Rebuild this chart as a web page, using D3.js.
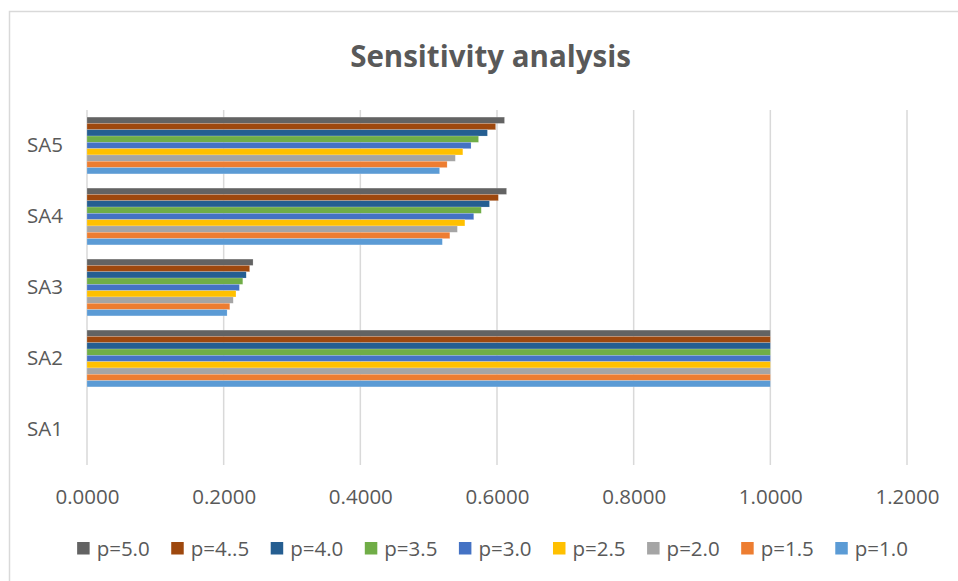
<!DOCTYPE html>
<html lang="en">
<head>
<meta charset="utf-8">
<title>Sensitivity analysis</title>
<script src="https://cdn.jsdelivr.net/npm/d3@7"></script>
<style>
  body { margin: 0; background: #fff; }
  text { font-family: "Open Sans", "Liberation Sans", sans-serif; fill: #595959; }
</style>
</head>
<body>
<div id="chart"></div>
<script>
// categories, top to bottom as drawn
var categories = ["SA5", "SA4", "SA3", "SA2", "SA1"];
// series in legend order (top bar of each group first)
var seriesNames = ["p=5.0", "p=4..5", "p=4.0", "p=3.5", "p=3.0", "p=2.5", "p=2.0", "p=1.5", "p=1.0"];
var seriesColors = ["#636363", "#9E480E", "#255E91", "#70AD47", "#4472C4", "#FFC000", "#A5A5A5", "#ED7D31", "#5B9BD5"];
// values per series, in the order SA5, SA4, SA3, SA2, SA1
var v50 = [0.611, 0.614, 0.243, 1.0, 0];
var v45 = [0.598, 0.602, 0.238, 1.0, 0];
var v40 = [0.586, 0.589, 0.233, 1.0, 0];
var v35 = [0.573, 0.577, 0.228, 1.0, 0];
var v30 = [0.562, 0.566, 0.223, 1.0, 0];
var v25 = [0.550, 0.553, 0.218, 1.0, 0];
var v20 = [0.539, 0.542, 0.214, 1.0, 0];
var v15 = [0.527, 0.531, 0.209, 1.0, 0];
var v10 = [0.516, 0.520, 0.205, 1.0, 0];
var seriesValues = [v50, v45, v40, v35, v30, v25, v20, v15, v10];
var xTicks = [0, 0.2, 0.4, 0.6, 0.8, 1.0, 1.2];

var W = 958, H = 581;
var plot = {left: 87, right: 907, top: 110, bottom: 465};

var svg = d3.select("#chart").append("svg")
    .attr("width", W).attr("height", H);

// outer chart border (runs off the right and bottom of the frame)
svg.append("rect")
    .attr("x", 9.5).attr("y", 11.5)
    .attr("width", 1000).attr("height", 1000)
    .attr("fill", "#fff").attr("stroke", "#d9d9d9").attr("stroke-width", 1.5);

var x = d3.scaleLinear().domain([0, 1.2]).range([plot.left, plot.right]);
var y = d3.scaleBand().domain(categories).range([plot.top, plot.bottom])
    .paddingInner(0.2).paddingOuter(0.1);
var ySub = d3.scaleBand().domain(seriesNames).range([0, y.bandwidth()]);

// title
svg.append("text")
    .attr("x", 490.5).attr("y", 67)
    .attr("text-anchor", "middle")
    .attr("font-size", "29.5px").attr("font-weight", "bold")
    .text("Sensitivity analysis");

// gridlines
svg.append("g").selectAll("line")
    .data(xTicks).enter().append("line")
    .attr("x1", function(d) { return x(d); })
    .attr("x2", function(d) { return x(d); })
    .attr("y1", plot.top).attr("y2", plot.bottom)
    .attr("stroke", "#d9d9d9").attr("stroke-width", 1.5);

// bars
var groups = svg.append("g").selectAll("g")
    .data(seriesNames).enter().append("g")
    .attr("fill", function(d, i) { return seriesColors[i]; });

groups.selectAll("rect")
    .data(function(d, i) {
      return categories.map(function(c, j) { return {cat: c, s: d, v: seriesValues[i][j]}; });
    })
    .enter().append("rect")
    .attr("x", x(0))
    .attr("y", function(d) { return y(d.cat) + ySub(d.s); })
    .attr("height", ySub.bandwidth())
    .attr("width", function(d) { return x(d.v) - x(0); })
    .attr("stroke", "rgba(255,255,255,0.35)").attr("stroke-width", 0.5);

// x tick labels
var xAxis = d3.axisBottom(x).tickValues(xTicks).tickFormat(d3.format(".4f")).tickSize(0).tickPadding(0);
var gx = svg.append("g").attr("transform", "translate(0,483)").call(xAxis);
gx.select(".domain").remove();
gx.selectAll("text").attr("font-size", "20.5px").attr("fill", "#595959")
    .attr("font-family", "Open Sans").attr("dy", "1em").attr("y", 0);

// y category labels
var yAxis = d3.axisLeft(y).tickSize(0).tickPadding(0);
var gy = svg.append("g").attr("transform", "translate(63,0)").call(yAxis);
gy.select(".domain").remove();
gy.selectAll("text").attr("font-size", "20.5px").attr("fill", "#595959")
    .attr("font-family", "Open Sans");

// legend
var legend = svg.append("g");
var items = legend.selectAll("g").data(seriesNames).enter().append("g");
items.append("rect")
    .attr("width", 12.5).attr("height", 12.5)
    .attr("y", 542)
    .attr("fill", function(d, i) { return seriesColors[i]; });
items.append("text")
    .attr("x", 19.5).attr("y", 556)
    .attr("font-size", "20.5px")
    .text(function(d) { return d; });
var pos = 0;
items.each(function() {
  d3.select(this).attr("transform", "translate(" + pos + ",0)");
  pos += 19.5 + this.querySelector("text").getComputedTextLength() + 21.5;
});
var legendWidth = pos - 21.5;
legend.attr("transform", "translate(" + (492.5 - legendWidth / 2) + ",0)");
</script>
</body>
</html>
